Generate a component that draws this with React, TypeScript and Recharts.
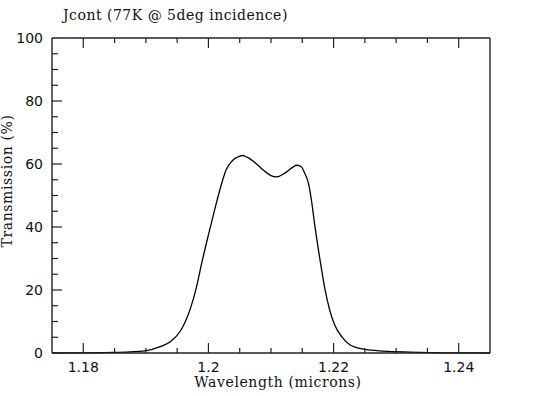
import React from 'react';
import { LineChart, Line, XAxis, YAxis } from 'recharts';

const wavelengths = [
  1.175, 1.18, 1.185, 1.1899, 1.1923, 1.1939, 1.1955, 1.1963, 1.1971, 1.1981, 1.1989, 1.2,
  1.201, 1.202, 1.2028, 1.2037, 1.205, 1.2055, 1.2061, 1.2066, 1.2077, 1.2088,
  1.21, 1.2109, 1.2117, 1.2125, 1.2135, 1.2141, 1.2148, 1.2154, 1.216, 1.2165,
  1.217, 1.2178, 1.2186, 1.2194, 1.2202, 1.2213, 1.2226, 1.2248, 1.228, 1.2322, 1.24, 1.245,
];
const transmission = [
  0, 0.05, 0.2, 0.7, 2.0, 3.6, 6.9, 9.9, 14.0, 21.0, 28.3, 37.5,
  45.5, 53, 58, 60.8, 62.5, 62.7, 62.2, 61.7, 60.0, 58.0,
  56.3, 55.9, 56.5, 57.5, 59.0, 59.6, 59.2, 57.0, 53.8, 48,
  40.5, 30, 20.5, 13.5, 8.8, 5.2, 2.6, 1.2, 0.6, 0.3, 0.05, 0,
];

const xMajorTicks = [1.18, 1.2, 1.22, 1.24];
const xAllTicks = [1.18, 1.185, 1.19, 1.195, 1.2, 1.205, 1.21, 1.215, 1.22, 1.225, 1.23, 1.235, 1.24];
const yMajorTicks = [0, 20, 40, 60, 80, 100];
const yAllTicks = [0, 5, 10, 15, 20, 25, 30, 35, 40, 45, 50, 55, 60, 65, 70, 75, 80, 85, 90, 95, 100];

const titleText = 'Jcont (77K @ 5deg incidence)';
const xTitle = 'Wavelength (microns)';
const yTitle = 'Transmission (%)';

const data = wavelengths.map((w, i) => ({ x: w, t: transmission[i] }));

const INK = '#111';
const AXIS = '#222';
const TICK_FONT = 'DejaVu Sans, sans-serif';
const TITLE_FONT = '"DejaVu Serif", serif';

const isMajor = (arr: number[], v: number) => arr.some((m) => Math.abs(m - v) < 1e-9);

const BottomTick = (props: any) => {
  const { x, y, payload } = props;
  const major = isMajor(xMajorTicks, payload.value);
  return (
    <g>
      <line x1={x} y1={y} x2={x} y2={y - (major ? 10 : 5)} stroke={AXIS} strokeWidth={1.2} />
      {major && (
        <text x={x} y={y + 19} textAnchor="middle" fontFamily={TICK_FONT} fontSize={14} fill={INK}>
          {String(payload.value)}
        </text>
      )}
    </g>
  );
};

const TopTick = (props: any) => {
  const { x, y, payload } = props;
  const major = isMajor(xMajorTicks, payload.value);
  return <line x1={x} y1={y} x2={x} y2={y + (major ? 10 : 5)} stroke={AXIS} strokeWidth={1.2} />;
};

const LeftTick = (props: any) => {
  const { x, y, payload } = props;
  const major = isMajor(yMajorTicks, payload.value);
  return (
    <g>
      {payload.value !== 0 && payload.value !== 100 && (
        <line x1={x} y1={y} x2={x + (major ? 10 : 6)} y2={y} stroke={AXIS} strokeWidth={1.2} />
      )}
      {major && (
        <text x={x - 9} y={y + 5} textAnchor="end" fontFamily={TICK_FONT} fontSize={14} fill={INK}>
          {String(payload.value)}
        </text>
      )}
    </g>
  );
};

const RightTick = (props: any) => {
  const { x, y, payload } = props;
  const major = isMajor(yMajorTicks, payload.value);
  return (
    <g>
      {payload.value !== 0 && payload.value !== 100 && (
        <line x1={x} y1={y} x2={x - (major ? 10 : 6)} y2={y} stroke={AXIS} strokeWidth={1.2} />
      )}
      {major && (
        <text x={x + 8} y={y + 5} textAnchor="start" fontFamily={TICK_FONT} fontSize={14} fill={INK}>
          {String(payload.value)}
        </text>
      )}
    </g>
  );
};

const axisLine = { stroke: AXIS, strokeWidth: 1.4 };

export default function App() {
  return (
    <div style={{ position: 'absolute', left: 0, top: 0, width: 541, height: 396, background: '#fff' }}>
      <LineChart width={541} height={396} data={data} margin={{ top: 0, right: 0, bottom: 0, left: 0 }}>
        <XAxis
          xAxisId="bottom"
          orientation="bottom"
          type="number"
          dataKey="x"
          domain={[1.175, 1.245]}
          allowDataOverflow
          ticks={xAllTicks}
          interval={0}
          height={43}
          tickSize={0}
          tickMargin={0}
          tickLine={false}
          axisLine={axisLine}
          tick={<BottomTick />}
        />
        <XAxis
          xAxisId="top"
          orientation="top"
          type="number"
          dataKey="x"
          domain={[1.175, 1.245]}
          allowDataOverflow
          ticks={xAllTicks}
          interval={0}
          height={38}
          tickSize={0}
          tickMargin={0}
          tickLine={false}
          axisLine={axisLine}
          tick={<TopTick />}
        />
        <YAxis
          yAxisId="left"
          orientation="left"
          type="number"
          domain={[0, 100]}
          ticks={yAllTicks}
          interval={0}
          width={52}
          tickSize={0}
          tickMargin={0}
          tickLine={false}
          axisLine={axisLine}
          tick={<LeftTick />}
        />
        <YAxis
          yAxisId="right"
          orientation="right"
          type="number"
          domain={[0, 100]}
          ticks={yAllTicks}
          interval={0}
          width={51}
          tickSize={0}
          tickMargin={0}
          tickLine={false}
          axisLine={axisLine}
          tick={<RightTick />}
        />
        <Line
          xAxisId="bottom"
          yAxisId="left"
          type="monotone"
          dataKey="t"
          stroke="#000"
          strokeWidth={1.3}
          dot={false}
          isAnimationActive={false}
        />
      </LineChart>
      <div
        style={{
          position: 'absolute', left: 63, top: 6, fontFamily: TITLE_FONT, fontSize: 14,
          letterSpacing: '0.5px', lineHeight: '18px', color: INK, whiteSpace: 'nowrap',
        }}
      >
        {titleText}
      </div>
      <div
        style={{
          position: 'absolute', left: 178, width: 200, textAlign: 'center', top: 373,
          fontFamily: TITLE_FONT, fontSize: 14, letterSpacing: '0.6px', lineHeight: '18px',
          color: INK, whiteSpace: 'nowrap',
        }}
      >
        {xTitle}
      </div>
      <div
        style={{
          position: 'absolute', left: 7 - 100, top: 181 - 9, width: 200, textAlign: 'center',
          transform: 'rotate(-90deg)', fontFamily: TITLE_FONT, fontSize: 14, letterSpacing: '0.6px',
          lineHeight: '18px', color: INK, whiteSpace: 'nowrap',
        }}
      >
        {yTitle}
      </div>
    </div>
  );
}
